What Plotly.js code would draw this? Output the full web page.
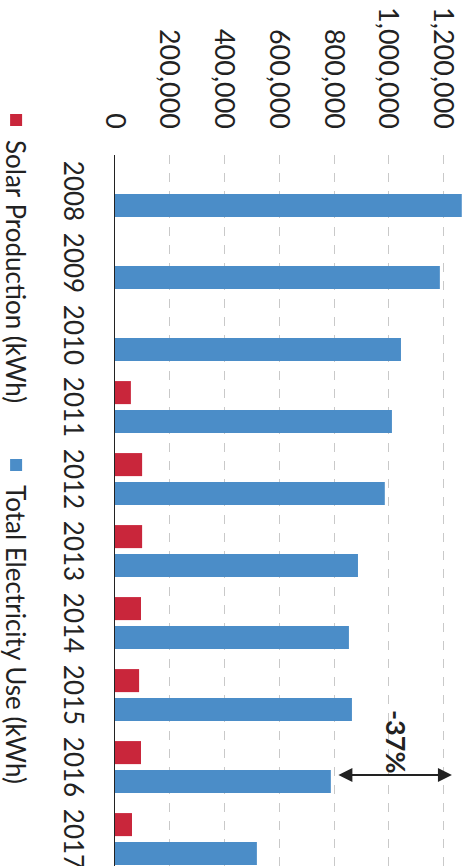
<!DOCTYPE html>
<html>
<head>
<meta charset="utf-8">
<script src="https://cdn.plot.ly/plotly-3.0.1.min.js"></script>
<style>
  html, body { margin: 0; padding: 0; background: #fff; overflow: hidden; }
  #wrap { position: absolute; left: 0; top: 0; width: 866px; height: 470px;
          transform-origin: 0 0; transform: translate(470px, 0) rotate(90deg); }
  #chart { width: 866px; height: 470px; }
</style>
</head>
<body>
<div id="wrap"><div id="chart"></div></div>
<script>
const years = ['2008','2009','2010','2011','2012','2013','2014','2015','2016','2017'];
const solarProduction = [0, 0, 0, 58000, 99000, 99000, 95000, 88000, 95000, 62000];
const totalElectricityUse = [1266000, 1186000, 1044000, 1011000, 985000, 887000, 854000, 865000, 788000, 518000];
const valueTicks = [0, 200000, 400000, 600000, 800000, 1000000, 1200000];
const seriesNames = ['Solar Production (kWh)', 'Total Electricity Use (kWh)'];
const changeLabel = '-37%';

const FONT = 'Lato, "Open Sans", "Liberation Sans", sans-serif';

const traces = [
  { type: 'bar', name: seriesNames[0], x: years, y: solarProduction,
    marker: { color: '#c9263b' }, hoverinfo: 'x+y' },
  { type: 'bar', name: seriesNames[1], x: years, y: totalElectricityUse,
    marker: { color: '#4b8dc8' }, hoverinfo: 'x+y' }
];

const layout = {
  width: 866, height: 470,
  margin: { l: 155, r: 0, t: 0, b: 115 },
  paper_bgcolor: '#ffffff', plot_bgcolor: '#ffffff',
  font: { family: FONT, color: '#222', size: 26 },
  barmode: 'group', bargap: 0.2, bargroupgap: 0.2,
  showlegend: true,
  legend: { orientation: 'h', xref: 'container', yref: 'container',
            x: 100/866, y: 16/470, xanchor: 'left', yanchor: 'middle',
            entrywidth: 300, entrywidthmode: 'pixels',
            font: { size: 26, family: FONT, color: '#222' },
            bgcolor: 'rgba(0,0,0,0)', traceorder: 'normal' },
  xaxis: { type: 'category', range: [-0.5, 9.375], showgrid: false,
           showline: true, linecolor: '#222', linewidth: 1.5, ticks: '',
           tickfont: { size: 26, family: FONT, color: '#222' },
           ticklabelstandoff: 18, fixedrange: true },
  yaxis: { range: [0, 1296000], tickvals: valueTicks, tickformat: ',d',
           showgrid: true, gridcolor: '#c9c9c9', griddash: 'dash', gridwidth: 1,
           zeroline: false, showline: false, ticks: '',
           tickfont: { size: 27, family: FONT, color: '#222' },
           ticklabelstandoff: 25, fixedrange: true },
  annotations: [
    { xref: 'x', yref: 'y', axref: 'x', ayref: 'y',
      x: 8.11, y: 1230000, ax: 8.11, ay: 810000,
      showarrow: true, arrowside: 'end+start', arrowhead: 2, arrowsize: 1.4,
      arrowwidth: 2, arrowcolor: '#222', standoff: 0, startstandoff: 0, text: '' },
    { xref: 'x', yref: 'y', x: 7.65, y: 1029000, showarrow: false,
      text: '<b>' + changeLabel + '</b>',
      font: { size: 27, family: FONT, color: '#222' } }
  ]
};

Plotly.newPlot('chart', traces, layout, { displayModeBar: false, staticPlot: true });
</script>
</body>
</html>
